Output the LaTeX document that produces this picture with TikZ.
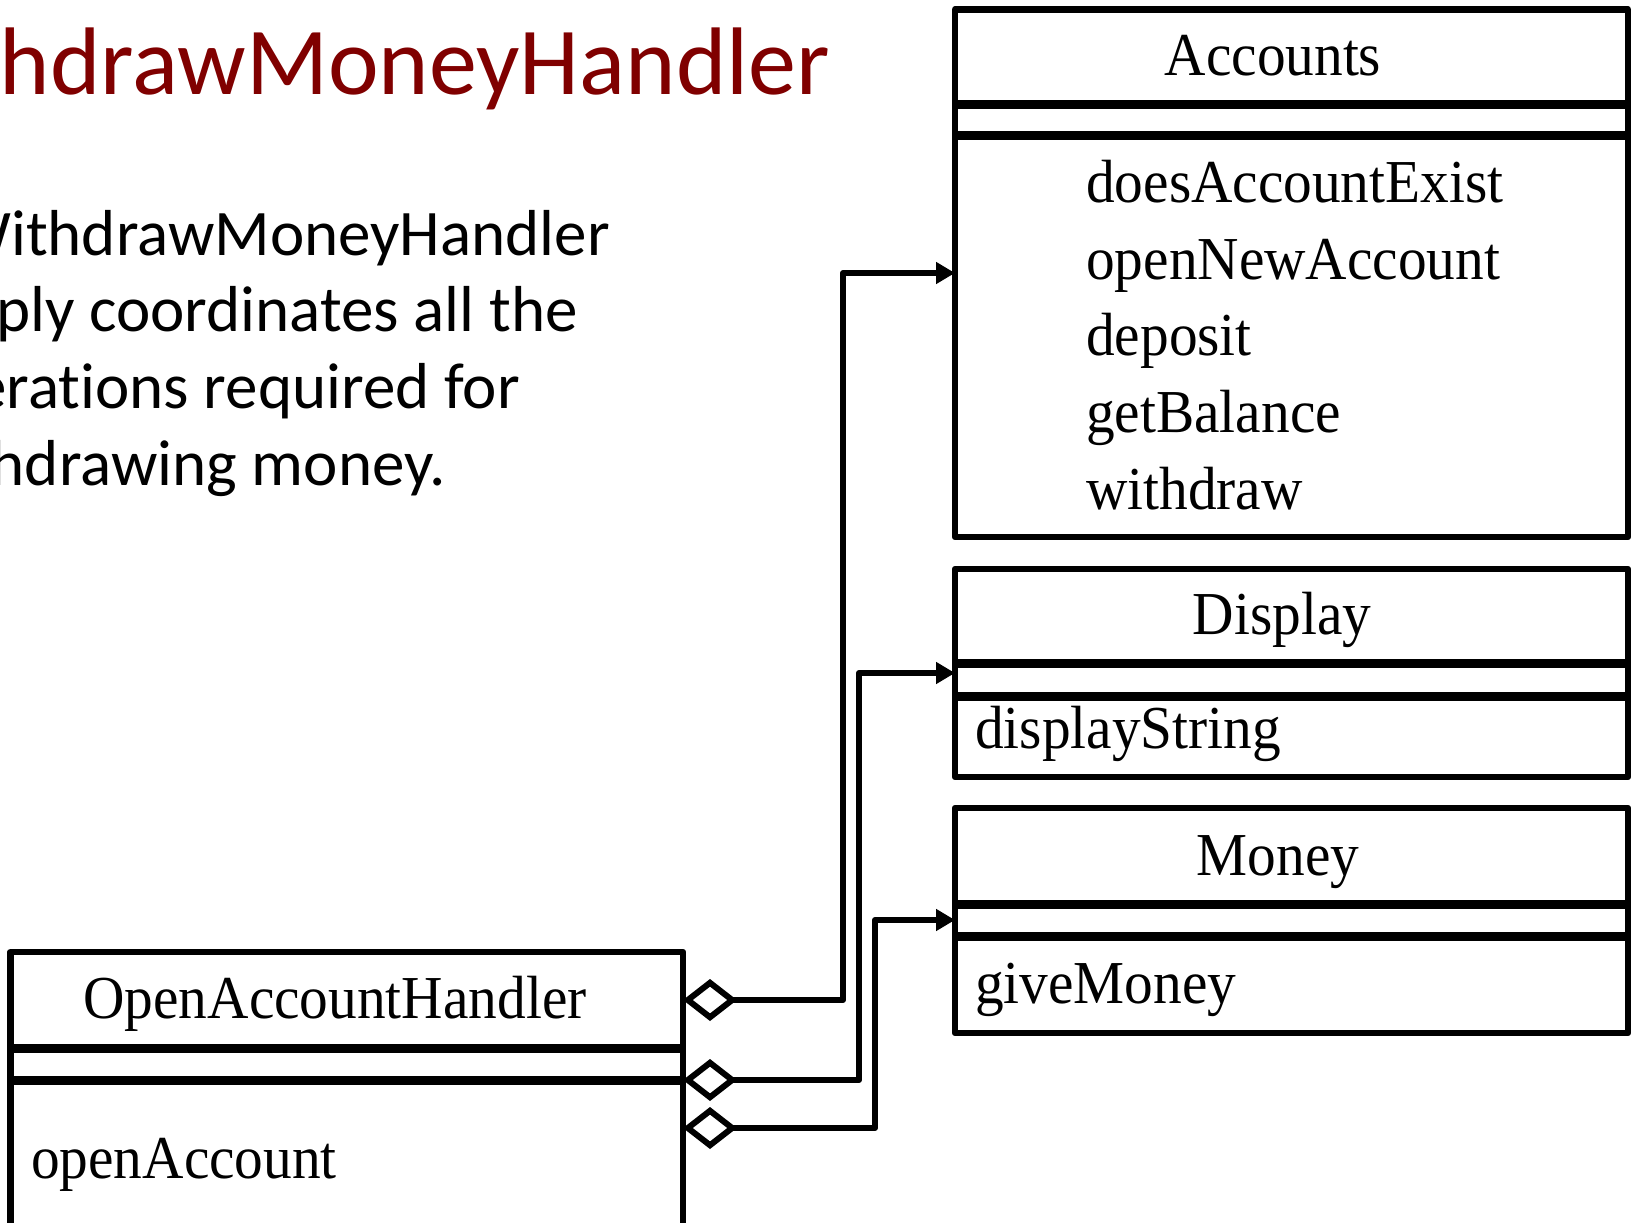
\documentclass[tikz,border=0pt]{standalone}
\usepackage{fontspec}
\setmainfont{Liberation Serif}[FakeStretch=0.94]
\newfontfamily\slidefont{Carlito}[Ligatures={NoCommon}]
\usetikzlibrary{arrows.meta}
\definecolor{titlered}{RGB}{128,0,0}

\tikzset{
  classbox/.style={draw, rectangle, line width=6.5pt, line join=round, inner sep=0pt, outer sep=0pt, anchor=north west},
  divider/.style={line width=9pt},
  assoc/.style={line width=6pt, line join=round,
    {Diamond[open,length=54pt,width=42pt]}-{Triangle[length=19pt,width=21pt]}},
  classname/.style={font=\fontsize{61}{70}\selectfont, inner sep=0pt, anchor=base},
  member/.style={font=\fontsize{61}{70}\selectfont, inner sep=0pt, anchor=base west},
  bodytext/.style={font=\slidefont\fontsize{65}{78}\selectfont, inner sep=0pt, anchor=base east},
}

\begin{document}
\begin{tikzpicture}[x=1pt,y=-1pt]
\useasboundingbox (0,0) rectangle (1633,1223);
\clip (0,0) rectangle (1633,1223);

% slide title and explanation
\node[font=\slidefont\fontsize{96}{110}\selectfont, text=titlered, inner sep=0pt, anchor=base east] (title) at (830,94) {WithdrawMoneyHandler};
\node[bodytext] (line1) at (610,255) {WithdrawMoneyHandler};
\node[bodytext] (line2) at (578,331) {simply coordinates all the};
\node[bodytext] (line3) at (520,408) {operations required for};
\node[bodytext] (line4) at (446,485) {withdrawing money.};

% class Accounts
\node[classbox, minimum width=673pt, minimum height=527.5pt] (acc) at (955,9.5) {};
\draw[divider] ([yshift=-94.5pt]acc.north west) -- ([yshift=-94.5pt]acc.north east);
\draw[divider] ([yshift=-125.5pt]acc.north west) -- ([yshift=-125.5pt]acc.north east);
\node[classname] (accname) at (1273,75) {Accounts};
\node[member] (m1) at (1086,202) {doesAccountExist};
\node[member] (m2) at (1086,279) {openNewAccount};
\node[member] (m3) at (1086,355) {deposit};
\node[member] (m4) at (1086,432) {getBalance};
\node[member] (m5) at (1086,509) {withdraw};

% class Display
\node[classbox, minimum width=673pt, minimum height=208pt] (disp) at (955,569) {};
\draw[divider] ([yshift=-94pt]disp.north west) -- ([yshift=-94pt]disp.north east);
\draw[divider] ([yshift=-127pt]disp.north west) -- ([yshift=-127pt]disp.north east);
\node[classname] (dispname) at (1282,634) {Display};
\node[member] (d1) at (975,748) {displayString};

% class Money
\node[classbox, minimum width=673pt, minimum height=225pt] (money) at (955,808) {};
\draw[divider] ([yshift=-96pt]money.north west) -- ([yshift=-96pt]money.north east);
\draw[divider] ([yshift=-128pt]money.north west) -- ([yshift=-128pt]money.north east);
\node[classname] (moneyname) at (1278,875) {Money};
\node[member] (g1) at (975,1003) {giveMoney};

% class OpenAccountHandler
\node[classbox, minimum width=672.6pt, minimum height=320pt] (oah) at (10.4,952) {};
\draw[divider] ([yshift=-96pt]oah.north west) -- ([yshift=-96pt]oah.north east);
\draw[divider] ([yshift=-128pt]oah.north west) -- ([yshift=-128pt]oah.north east);
\node[classname] (oahname) at (335,1018) {OpenAccountHandler};
\node[member] (o1) at (31,1178) {openAccount};

% connector end points
\coordinate (oahA) at ([yshift=-48pt]oah.north east);
\coordinate (oahB) at ([yshift=-128pt]oah.north east);
\coordinate (oahC) at ([yshift=-176pt]oah.north east);
\coordinate (accin) at ([yshift=-263.5pt]acc.north west);
\coordinate (dispin) at ([yshift=-104pt]disp.north west);
\coordinate (moneyin) at ([yshift=-112pt]money.north west);
\coordinate (jogA) at (843,273);
\coordinate (jogB) at (859,673);
\coordinate (jogC) at (875,920);

% aggregations
\draw[assoc] (oahA) -| (jogA) -- (accin);
\draw[assoc] (oahB) -| (jogB) -- (dispin);
\draw[assoc] (oahC) -| (jogC) -- (moneyin);
\end{tikzpicture}
\end{document}
